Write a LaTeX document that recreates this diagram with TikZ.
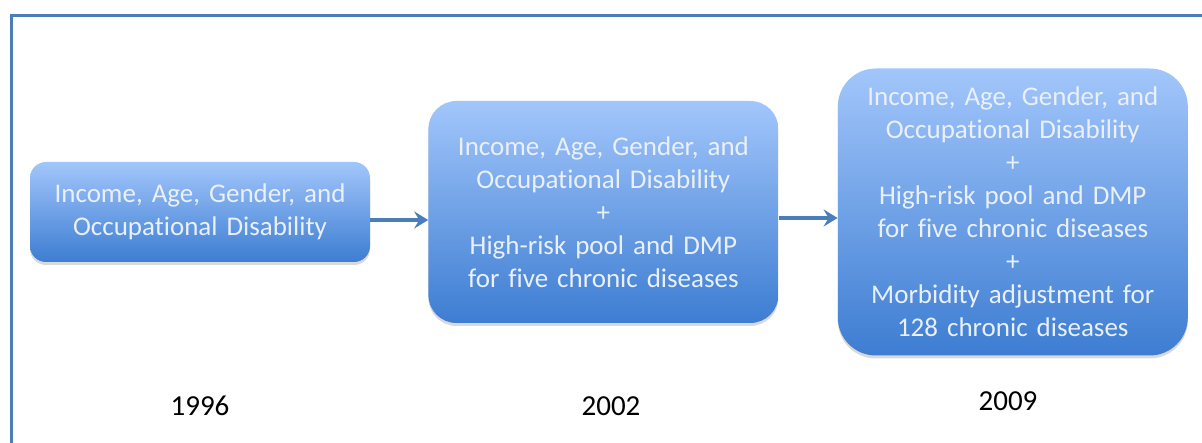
\documentclass[tikz,border=0pt]{standalone}
\usepackage{fontspec}
\setmainfont{Carlito}[Ligatures={NoCommon}]
\usepackage{xcolor}
\usetikzlibrary{positioning,arrows.meta,shadows}
\definecolor{rimblue}{HTML}{4A7EBB}
\definecolor{boxtop}{HTML}{A2C6FB}
\definecolor{boxbot}{HTML}{3D7DD2}
\definecolor{boxtext}{HTML}{EAF0F8}

\begin{document}
\begin{tikzpicture}[
  x=1pt, y=-1pt,
  node distance=58pt,
  era/.style={rounded corners=#1, top color=boxtop, bottom color=boxbot, draw=none, text width=330pt, inner xsep=10pt, align=center, text=boxtext, font=\fontsize{27pt}{33pt}\selectfont, drop shadow={opacity=0.3, shadow xshift=0pt, shadow yshift=-3pt}},
  yr/.style={font=\fontsize{29pt}{33pt}\selectfont, text=black},
  arr/.style={-{Stealth[length=14pt,width=17pt,inset=5pt]}, line width=3.2pt, draw=rimblue}
]
\useasboundingbox (0,0) rectangle (1202,443);
\draw[rimblue, line width=3pt] (11.5,15.5) rectangle (1240,444.6);

\node[era=16pt, text width=320pt, minimum height=100pt] (b1) at (200,212) {Income, Age, Gender, and\\Occupational Disability};
\node[era=28pt, minimum height=222pt, right=58pt of b1] (b2) {Income, Age, Gender, and\\Occupational Disability\\+\\High-risk pool and DMP\\for five chronic diseases};
\node[era=38pt, minimum height=287pt, right=59pt of b2] (b3) {Income, Age, Gender, and\\Occupational Disability\\+\\High-risk pool and DMP\\for five chronic diseases\\+\\Morbidity adjustment for\\128 chronic diseases};

\draw[arr] ([yshift=-8pt]b1.east) -- ([yshift=-8pt]b2.west);
\draw[arr] ([yshift=-6pt]b2.east) -- ([yshift=-6pt]b3.west);

\node[yr] (y1) at (200,406) {1996};
\node[yr] (y2) at (611,406) {2002};
\node[yr] (y3) at (1008,401) {2009};
\end{tikzpicture}
\end{document}
